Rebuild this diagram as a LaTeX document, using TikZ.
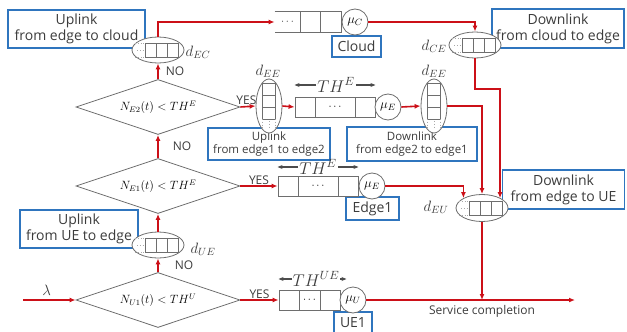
\RequirePackage{fix-cm}
\documentclass[tikz,border=0pt]{standalone}
\usepackage{fontspec}
\setmainfont{Open Sans}
\usetikzlibrary{arrows.meta, positioning, shapes.geometric}
\definecolor{cred}  {RGB}{204,16,24}
\definecolor{cblue} {RGB}{47,117,190}
\definecolor{cgray} {RGB}{110,110,110}
\definecolor{ctext} {RGB}{60,60,60}
\tikzset{
  lbox/.style={rectangle, draw=cblue, line width=1.6pt, fill=white,
               text=ctext, align=center, inner sep=0pt,
               font=\fontsize{14}{16}\selectfont},
  sbox/.style={lbox, font=\fontsize{11.5}{13.5}\selectfont},
  cond/.style={diamond, draw=cgray, line width=0.8pt, aspect=2.98, inner sep=0pt,
               minimum width=164pt, minimum height=55pt,
               font=\fontsize{12}{14}\selectfont},
  srv/.style={circle, draw=cgray, line width=0.8pt, fill=white,
              minimum size=26pt, inner sep=0pt, font=\fontsize{13}{15}\selectfont},
  buf/.style={ellipse, draw=cgray, line width=0.8pt, fill=white, inner sep=0pt},
  hbuf/.style={buf, minimum width=52pt, minimum height=26pt},
  vbuf/.style={buf, minimum width=26pt, minimum height=54pt},
  qcell/.style={rectangle, draw=cgray, line width=0.8pt, inner sep=0pt,
                minimum height=20pt, font=\fontsize{11}{13}\selectfont},
  qline/.style={draw=cgray, line width=0.8pt},
  arr/.style={-{Latex[length=6pt,width=5pt]}, draw=cred, line width=1.6pt},
  tharr/.style={-{Stealth[length=5pt,width=4pt]}, draw=black!70, line width=1.2pt},
  lbl/.style={font=\fontsize{12}{14}\selectfont, text=ctext, inner sep=1pt},
  mlbl/.style={font=\fontsize{15}{17}\selectfont, text=ctext, inner sep=1pt},
  thl/.style={font=\fontsize{17}{19}\selectfont, text=ctext, inner sep=1pt},
  hcells/.pic={
    \draw[qline] (-13,-7) rectangle (20,7) (-2,-7) -- (-2,7) (9,-7) -- (9,7);
    \draw[qline, dotted, draw=cgray!60] (-23,-7) -- (-13,-7) (-23,7) -- (-13,7)
         (-21,0) -- (-15,0);
  },
  vcells/.pic={
    \draw[qline] (-6.5,-23) rectangle (6.5,13) (-6.5,-11) -- (6.5,-11) (-6.5,1) -- (6.5,1);
    \draw[qline, dotted, draw=cgray!60] (-6.5,13) -- (-6.5,24) (6.5,13) -- (6.5,24)
         (0,15) -- (0,22);
  },
}

\begin{document}
\begin{tikzpicture}[x=1pt, y=-1pt]
  \useasboundingbox (0,0) rectangle (627,332);

  % ── Label boxes ────────────────────────────────────────────────────────────
  \node[lbox, minimum width=137pt, minimum height=38pt] at (76.5,29)  (bEC)   {Uplink\\from edge to cloud};
  \node[lbox, minimum width=132pt, minimum height=39pt] at (558,28.5) (bCE)   {Downlink\\from cloud to edge};
  \node[lbox, minimum width=49pt,  minimum height=21pt] at (356.5,46.5) (bC)  {Cloud};
  \node[sbox, minimum width=122pt, minimum height=32pt] at (269,144)  (bEE12) {Uplink\\from edge1 to edge2};
  \node[sbox, minimum width=130pt, minimum height=34pt] at (412,144)  (bEE21) {Downlink\\from edge2 to edge1};
  \node[lbox, minimum width=53pt,  minimum height=23pt] at (372.5,208.5) (bE1) {Edge1};
  \node[lbox, minimum width=122pt, minimum height=39pt] at (563.5,189.5) (bEU) {Downlink\\from edge to UE};
  \node[lbox, minimum width=118pt, minimum height=38pt] at (79,229)   (bUE)   {Uplink\\from UE to edge};
  \node[lbox, minimum width=38pt,  minimum height=22pt] at (353,323)  (bU1)   {UE1};

  % ── Decisions ──────────────────────────────────────────────────────────────
  \node[cond] at (158,300) (d0) {$N_{U1}(t) < TH^{U}$};
  \node[cond] at (158,186) (d1) {$N_{E1}(t) < TH^{E}$};
  \node[cond] at (158,107) (d2) {$N_{E2}(t) < TH^{E}$};

  % ── Link buffers ───────────────────────────────────────────────────────────
  \node[hbuf] at (158,50)  (eEC)  {};
  \node[hbuf] at (475,45)  (eCE)  {};
  \node[hbuf] at (158,245) (eUE)  {};
  \node[hbuf, minimum height=27pt] at (482,208) (eEU) {};
  \node[vbuf] at (269,106) (eEE1) {};
  \node[vbuf] at (434,106) (eEE2) {};
  \pic at (eEC) {hcells};
  \pic at (eCE) {hcells};
  \pic at (eUE) {hcells};
  \pic at (eEU) {hcells};
  \pic at (eEE1) {vcells};
  \pic at (eEE2) {vcells};

  \node[mlbl] at (198,52)  {$d_{EC}$};
  \node[mlbl] at (434,46)  {$d_{CE}$};
  \node[mlbl] at (268,71)  {$d_{EE}$};
  \node[mlbl] at (434,71)  {$d_{EE}$};
  \node[mlbl] at (203,249) {$d_{UE}$};
  \node[mlbl] at (436,207) {$d_{EU}$};

  % ── Queues and servers ─────────────────────────────────────────────────────
  \node[qcell, minimum width=80pt] at (335,107)   (qE2) {$\cdots$};
  \node[qcell, minimum width=80pt] at (318,186)   (qE1) {$\cdots$};
  \node[qcell, minimum width=61pt] at (309.5,300) (qU)  {$\cdots$};
  \node[qcell, minimum width=66pt, draw=none] at (308,22) (qC) {};
  \draw[qline] (315,97) -- (315,117) (355,97) -- (355,117);
  \draw[qline] (298,176) -- (298,196) (338,176) -- (338,196);
  \draw[qline] (299,290) -- (299,310) (320,290) -- (320,310);
  \draw[qline] (qC.north west) -- (qC.north east) -- (qC.south east) -- (qC.south west);
  \draw[qline] (300,12) -- (300,32) (320,12) -- (320,32);
  \node[font=\fontsize{11}{13}\selectfont, text=ctext] at (287.5,22) {$\cdots$};

  \node[srv] at (355,22)  (sC)  {$\mu_C$};
  \node[srv] at (388,107) (sE2) {$\mu_E$};
  \node[srv] at (372,186) (sE1) {$\mu_E$};
  \node[srv] at (353,300) (sU)  {$\mu_U$};

  % ── Thresholds ─────────────────────────────────────────────────────────────
  \node[thl] at (336,85)  (thE2) {$TH^{E}$};
  \node[thl] at (318,167) (thE1) {$TH^{E}$};
  \node[thl] at (316,279) (thU)  {$TH^{UE}$};
  \draw[tharr] (thE2.west) -- (qE2.west |- thE2.west);
  \draw[tharr] (thE2.east) -- (qE2.east |- thE2.east);
  \draw[tharr] (thE1.west) -- (qE1.west |- thE1.west);
  \draw[tharr] (thE1.east) -- (qE1.east |- thE1.east);
  \draw[tharr] (thU.west)  -- (qU.west |- thU.west);
  \draw[tharr] (thU.east)  -- ++(6,0);

  % ── Arrows ─────────────────────────────────────────────────────────────────
  \coordinate (in)   at (23,300);
  \coordinate (out)  at (575,300);
  \coordinate (bend) at (500,89);
  \draw[arr] (in)   -- node[mlbl, above=3pt, pos=0.45] {$\lambda$} (d0.west);
  \draw[arr] (d0.east) -- node[lbl, above] {YES} (qU.west);
  \draw[arr] (d0.north) -- node[lbl, right=15pt] {NO} (eUE.south);
  \draw[arr] (eUE.north) -- (d1.south);
  \draw[arr] (d1.east) -- node[lbl, above] {YES} (qE1.west);
  \draw[arr] (d1.north) -- node[lbl, right=13pt] {NO} (d2.south);
  \draw[arr] (d2.east) -- node[lbl, above, pos=0.4] {YES} (eEE1.west);
  \draw[arr] (eEE1.east) -- (qE2.west);
  \draw[arr] (sE2.east) -- (eEE2.west);
  \draw[arr] (d2.north) -- node[lbl, right=6pt] {NO} (eEC.south);
  \draw[arr] (eEC.north) |- (qC.west);
  \draw[arr] (sC.east) -| (eCE.north);
  \draw[arr] (eCE.south) |- (bend) -- (bend |- eEU.28);
  \draw[arr] (eEE2.east) -| (eEU.north);
  \draw[arr] (sE1.east) -| (eEU.152);
  \draw[arr] (sU.east) -- (out);
  \draw[arr] (eEU.south) -- (eEU.south |- out);
  \node[lbl, below=4pt] at (eEU.south |- out) {Service completion};
\end{tikzpicture}
\end{document}
